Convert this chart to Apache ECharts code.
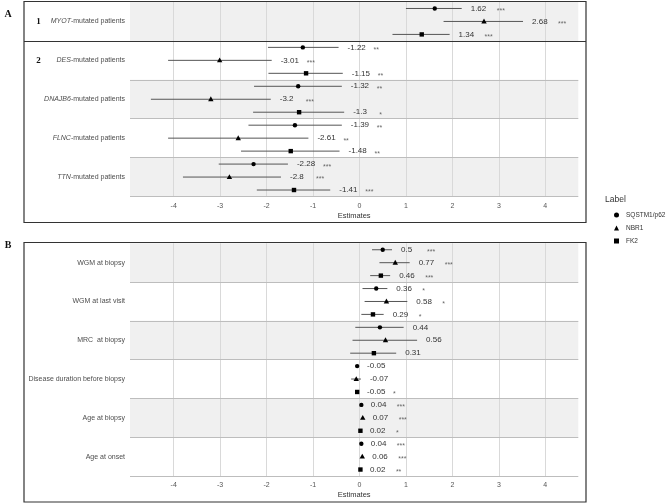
<!DOCTYPE html>
<html lang="en">
  <head>
    <meta charset="UTF-8" />
    <title>Forest plot</title>
    <style>
      * {
        padding: 0;
        margin: 0;
      }
      html,
      body {
        width: 100%;
        height: 100%;
        background: #fff;
      }
      #main {
        width: 669px;
        height: 503px;
      }
    </style>
  </head>
  <body>
    <div id="main"></div>
    <script src="https://cdn.jsdelivr.net/npm/echarts@6.0.0/dist/echarts.min.js"></script>
    <script>
      // labels of the three antibodies (legend)
      var labelNames = ['SQSTM1/p62', 'NBR1', 'FK2'];

      // panel A: mutated gene groups
      var genesA = ['MYOT', 'DES', 'DNAJB6', 'FLNC', 'TTN'];
      // rows: [estimate, lower CI, upper CI, significance]
      var p62A = [
        [1.62, 1.0, 2.2, '***'],
        [-1.22, -1.97, -0.45, '**'],
        [-1.32, -2.27, -0.38, '**'],
        [-1.39, -2.39, -0.38, '**'],
        [-2.28, -3.03, -1.54, '***']
      ];
      var nbr1A = [
        [2.68, 1.81, 3.52, '***'],
        [-3.01, -4.12, -1.89, '***'],
        [-3.2, -4.49, -1.91, '***'],
        [-2.61, -4.12, -1.1, '**'],
        [-2.8, -3.8, -1.69, '***']
      ];
      var fk2A = [
        [1.34, 0.71, 1.94, '***'],
        [-1.15, -1.96, -0.36, '**'],
        [-1.3, -2.29, -0.33, '*'],
        [-1.48, -2.55, -0.43, '**'],
        [-1.41, -2.21, -0.63, '***']
      ];

      // panel B: clinical variables
      var variablesB = [
        'WGM at biopsy',
        'WGM at last visit',
        'MRC  at biopsy',
        'Disease duration before biopsy',
        'Age at biopsy',
        'Age at onset'
      ];
      var p62B = [
        [0.5, 0.27, 0.7, '***'],
        [0.36, 0.065, 0.6, '*'],
        [0.44, -0.09, 0.95, ''],
        [-0.05, -0.07, -0.03, ''],
        [0.04, 0.03, 0.05, '***'],
        [0.04, 0.03, 0.05, '***']
      ];
      var nbr1B = [
        [0.77, 0.43, 1.08, '***'],
        [0.58, 0.11, 1.03, '*'],
        [0.56, -0.15, 1.24, ''],
        [-0.07, -0.18, 0.03, ''],
        [0.07, 0.05, 0.09, '***'],
        [0.06, 0.04, 0.08, '***']
      ];
      var fk2B = [
        [0.46, 0.23, 0.66, '***'],
        [0.29, 0.04, 0.52, '*'],
        [0.31, -0.2, 0.79, ''],
        [-0.05, -0.07, -0.03, '*'],
        [0.02, 0.01, 0.03, '*'],
        [0.02, 0.01, 0.03, '**']
      ];

      var xMin = -4.94;
      var xMax = 4.71;

      window.onload = function() {
        var FONT = '"Liberation Sans", Arial, sans-serif';
        var shapes = ['circle', 'triangle', 'square'];
        var myChart = echarts.init(document.getElementById('main'), null, {renderer: 'canvas'});

        // error bar + marker + value + stars
        function renderRow(rows, shape) {
          return function(params, api) {
            var row = rows[params.dataIndex];
            var y = api.value(3);
            var p = api.coord([api.value(0), y]);
            var lo = api.coord([api.value(1), y]);
            var hi = api.coord([api.value(2), y]);
            var marker;
            if (shape === 'circle') {
              marker = {type: 'circle', shape: {cx: p[0], cy: p[1], r: 2.2}, style: {fill: '#000'}};
            } else if (shape === 'triangle') {
              marker = {
                type: 'polygon',
                shape: {points: [[p[0], p[1] - 2.9], [p[0] - 2.7, p[1] + 2], [p[0] + 2.7, p[1] + 2]]},
                style: {fill: '#000'}
              };
            } else {
              marker = {type: 'rect', shape: {x: p[0] - 2.2, y: p[1] - 2.2, width: 4.4, height: 4.4}, style: {fill: '#000'}};
            }
            return {
              type: 'group',
              children: [
                {type: 'line', shape: {x1: lo[0], y1: lo[1], x2: hi[0], y2: hi[1]}, style: {stroke: '#555', lineWidth: 1}},
                marker,
                {
                  type: 'text',
                  style: {
                    text: String(row[0]), x: hi[0] + 9, y: p[1], align: 'left', verticalAlign: 'middle',
                    fontSize: 8, fontFamily: FONT, fill: '#333'
                  }
                },
                {
                  type: 'text',
                  style: {
                    text: row[3], x: hi[0] + 35, y: p[1] + 2.5, align: 'left', verticalAlign: 'middle',
                    fontSize: 7, fontFamily: FONT, fill: '#666'
                  }
                }
              ]
            };
          };
        }

        function makeSeries(rows, k, gridIdx) {
          return {
            type: 'custom',
            name: labelNames[k],
            xAxisIndex: gridIdx,
            yAxisIndex: gridIdx * 2,
            itemStyle: {color: '#000'},
            z: 5,
            silent: true,
            encode: {x: [0, 1, 2], y: 3},
            renderItem: renderRow(rows, shapes[k]),
            data: rows.map(function(r, g) {
              return [r[0], r[1], r[2], 3 * g + k + 0.5];
            })
          };
        }

        // grey stripes every other group and separator lines
        function bandSeries(gridIdx, nGroups, lines) {
          var areas = [];
          for (var g = 0; g < nGroups; g += 2) {
            areas.push([{yAxis: g * 3}, {yAxis: g * 3 + 3}]);
          }
          return {
            type: 'line',
            data: [],
            xAxisIndex: gridIdx,
            yAxisIndex: gridIdx * 2,
            silent: true,
            z: 1,
            markArea: {silent: true, itemStyle: {color: '#f0f0f0'}, data: areas},
            markLine: {
              silent: true,
              symbol: 'none',
              label: {show: false},
              lineStyle: {color: '#bdbdbd', width: 1, type: 'solid'},
              data: lines.map(function(v) {
                return {yAxis: v};
              })
            }
          };
        }

        function xAxisFor(gridIdx) {
          return {
            gridIndex: gridIdx,
            type: 'value',
            min: xMin,
            max: xMax,
            splitNumber: 10,
            z: 2,
            axisLine: {show: false},
            axisTick: {show: false},
            axisLabel: {
              fontSize: 7, color: '#555', margin: 6, fontFamily: FONT,
              showMinLabel: false, showMaxLabel: false
            },
            splitLine: {show: true, showMinLine: false, showMaxLine: false, lineStyle: {color: '#d9d9d9', width: 1}},
            name: 'Estimates',
            nameLocation: 'middle',
            nameGap: 15,
            nameTextStyle: {fontSize: 7.5, color: '#333', fontFamily: FONT}
          };
        }

        function rowAxis(gridIdx, n) {
          return {gridIndex: gridIdx, type: 'value', min: 0, max: n, inverse: true, show: false, position: 'left'};
        }

        function labelAxis(gridIdx, labels) {
          return {
            gridIndex: gridIdx,
            type: 'category',
            position: 'left',
            inverse: true,
            data: labels,
            axisLine: {show: false},
            axisTick: {show: false},
            splitLine: {show: false},
            axisLabel: {
              margin: 5, fontSize: 7, color: '#4d4d4d', fontFamily: FONT,
              rich: {it: {fontStyle: 'italic', fontSize: 7, color: '#4d4d4d', fontFamily: FONT}}
            }
          };
        }

        var labelsA = genesA.map(function(g) {
          return '{it|' + g + '}-mutated patients';
        });

        var series = [bandSeries(0, genesA.length, [6, 9, 12, 15]), bandSeries(1, variablesB.length, [3, 6, 9, 12, 15, 18])];
        [p62A, nbr1A, fk2A].forEach(function(rows, k) {
          series.push(makeSeries(rows, k, 0));
        });
        [p62B, nbr1B, fk2B].forEach(function(rows, k) {
          series.push(makeSeries(rows, k, 1));
        });

        var option = {
          animation: false,
          color: ['#000'],
          textStyle: {fontFamily: FONT},
          grid: [
            {left: 130, top: 2, width: 448.3, height: 194.5},
            {left: 130, top: 243.3, width: 448.3, height: 232.7}
          ],
          xAxis: [xAxisFor(0), xAxisFor(1)],
          yAxis: [
            rowAxis(0, genesA.length * 3),
            labelAxis(0, labelsA),
            rowAxis(1, variablesB.length * 3),
            labelAxis(1, variablesB)
          ],
          legend: {
            orient: 'vertical',
            left: 609,
            top: 206.5,
            itemWidth: 5,
            itemHeight: 5,
            itemGap: 6,
            selectedMode: false,
            textStyle: {fontSize: 6.5, color: '#333', fontFamily: FONT, padding: [0, 0, 0, 2]},
            data: [
              {name: 'SQSTM1/p62', icon: 'circle'},
              {name: 'NBR1', icon: 'triangle'},
              {name: 'FK2', icon: 'rect'}
            ]
          },
          series: series
        };
        myChart.setOption(option);

        // frames and panel labels, placed from the axes
        var yA = function(v) {
          return myChart.convertToPixel({yAxisIndex: 0}, v);
        };
        var split = Math.round(yA(3)) + 0.5;
        var frame = {fill: 'none', stroke: '#333', lineWidth: 1.2};
        myChart.setOption({
          graphic: [
            {type: 'rect', silent: true, z: 100, shape: {x: 24, y: 1.5, width: 562, height: 221}, style: frame},
            {type: 'line', silent: true, z: 100, shape: {x1: 24, y1: split, x2: 586, y2: split}, style: frame},
            {type: 'rect', silent: true, z: 100, shape: {x: 24, y: 242.5, width: 562, height: 259.5}, style: frame},
            {
              type: 'text', z: 100, x: 8, y: 14,
              style: {text: 'A', font: 'bold 10px "Liberation Serif", serif', fill: '#111', align: 'center', verticalAlign: 'middle'}
            },
            {
              type: 'text', z: 100, x: 8, y: 245,
              style: {text: 'B', font: 'bold 10px "Liberation Serif", serif', fill: '#111', align: 'center', verticalAlign: 'middle'}
            },
            {
              type: 'text', z: 100, x: 38.5, y: yA(1.5),
              style: {text: '1', font: 'bold 9px "Liberation Serif", serif', fill: '#111', align: 'center', verticalAlign: 'middle'}
            },
            {
              type: 'text', z: 100, x: 38.5, y: yA(4.5),
              style: {text: '2', font: 'bold 9px "Liberation Serif", serif', fill: '#111', align: 'center', verticalAlign: 'middle'}
            },
            {
              type: 'text', z: 100, x: 605, y: 200,
              style: {text: 'Label', font: '8.5px "Liberation Sans", Arial', fill: '#333', align: 'left', verticalAlign: 'middle'}
            }
          ]
        });
      };
    </script>
  </body>
</html>
